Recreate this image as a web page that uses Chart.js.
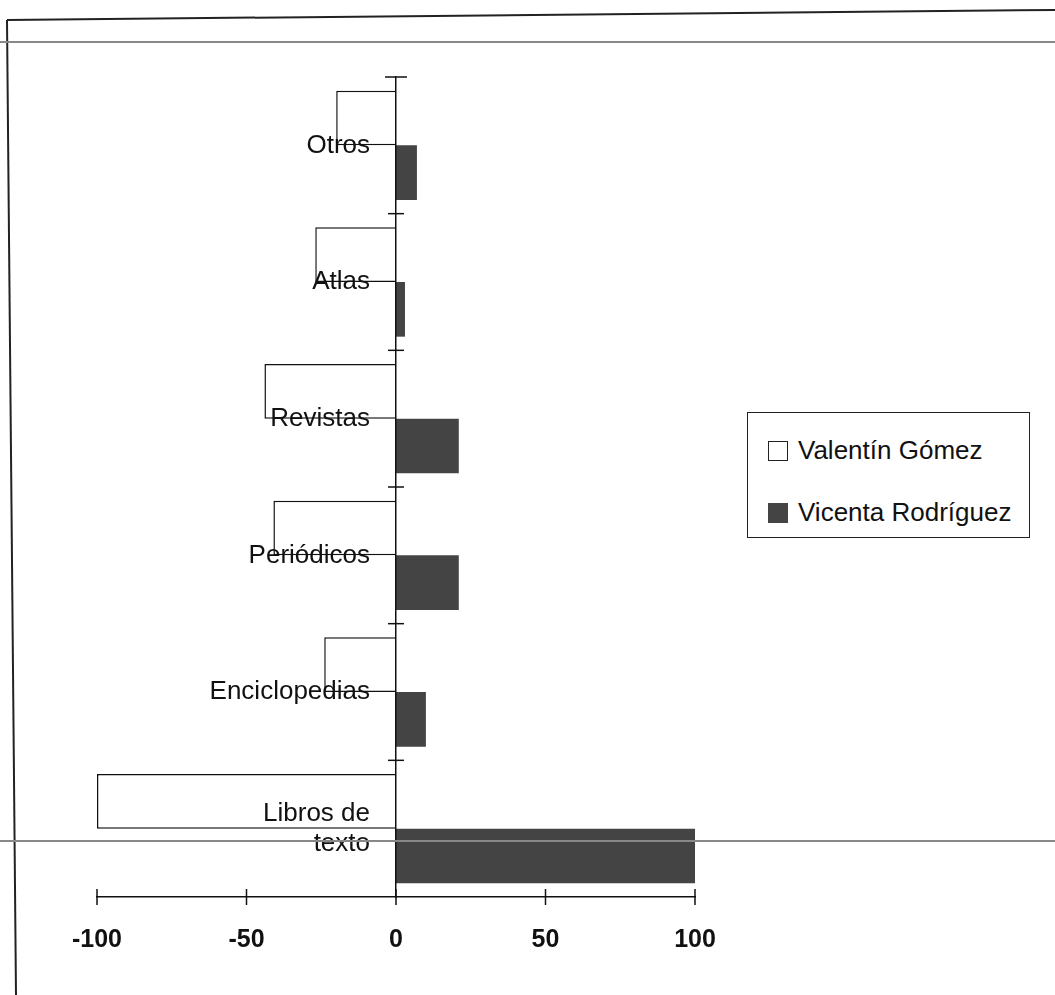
<!DOCTYPE html>
<html lang="es">
<head>
<meta charset="utf-8">
<title>Materiales utilizados</title>
<script src="https://cdn.jsdelivr.net/npm/chart.js@4.4.1/dist/chart.umd.min.js"></script>
<style>
  html, body { margin: 0; padding: 0; background: #fff; }
  #wrap { position: relative; width: 1055px; height: 995px; overflow: hidden; }
  #frame { position: absolute; left: 0; top: 0; pointer-events: none; }
  #legend {
    position: absolute; left: 747px; top: 412px; width: 281px; height: 124px;
    border: 1.5px solid #222; background: #fff;
    font-family: "Liberation Sans", Arial, sans-serif; font-size: 26px; color: #111;
  }
  #legend .item { position: absolute; left: 20px; display: flex; align-items: center; }
  #legend .box { width: 20px; height: 20px; box-sizing: border-box; margin-right: 10px; }
</style>
</head>
<body>
<div id="wrap">
  <canvas id="usoChart"></canvas>
  <svg id="frame" width="1055" height="995">
    <line x1="7" y1="20" x2="1055" y2="10" stroke="#222" stroke-width="2"/>
    <line x1="7" y1="20" x2="16" y2="995" stroke="#222" stroke-width="2"/>
    <line x1="0" y1="42" x2="1055" y2="42" stroke="#888" stroke-width="2"/>
    <line x1="0" y1="841" x2="1055" y2="841" stroke="#888" stroke-width="2"/>
  </svg>
  <div id="legend"></div>
</div>
<script>
// Datos
const categories = ['Otros', 'Atlas', 'Revistas', 'Periódicos', 'Enciclopedias', ['Libros de', 'texto']];
const valentin = [-20, -27, -44, -41, -24, -100];
const vicenta = [7, 3, 21, 21, 10, 100];
const xTicks = [-100, -50, 0, 50, 100];

Chart.defaults.font.family = '"Liberation Sans", Arial, sans-serif';
Chart.defaults.color = '#111';

// tick marks that cross both axes
const crossTicks = {
  id: 'crossTicks',
  afterDraw(chart) {
    const { ctx, scales: { x, y } } = chart;
    const line = (x1, y1, x2, y2) => {
      ctx.beginPath(); ctx.moveTo(x1, y1); ctx.lineTo(x2, y2); ctx.stroke();
    };
    ctx.save();
    ctx.strokeStyle = '#111';
    ctx.lineWidth = 1.5;
    const yBase = y.bottom;
    x.ticks.forEach((t, i) => {
      const px = x.getPixelForTick(i);
      line(px, yBase - 8, px, yBase + 8);
    });
    const x0 = x.getPixelForValue(0);
    for (let i = 0; i < categories.length; i++) {
      const py = y.getPixelForValue(i - 0.5);
      const w = i === 0 ? 11 : 8;
      line(x0 - w, py, x0 + w, py);
    }
    ctx.restore();
  }
};

const ctx = document.getElementById('usoChart').getContext('2d');
const usoChart = new Chart(ctx, {
  type: 'bar',
  data: {
    labels: categories,
    datasets: [{
      label: 'Valentín Gómez',
      data: valentin,
      backgroundColor: '#ffffff',
      borderColor: '#111111',
      borderWidth: 1.5,
      borderSkipped: 'start'
    }, {
      label: 'Vicenta Rodríguez',
      data: vicenta,
      backgroundColor: '#444444',
      borderWidth: 0
    }]
  },
  options: {
    indexAxis: 'y',
    responsive: true,
    maintainAspectRatio: false,
    animation: false,
    layout: { padding: { top: 77, left: 97, right: 360, bottom: 12 } },
    datasets: { bar: { categoryPercentage: 0.8, barPercentage: 1.0 } },
    plugins: {
      legend: { display: false },
      tooltip: { enabled: false }
    },
    scales: {
      x: {
        min: -100,
        max: 100,
        afterBuildTicks: (axis) => { axis.ticks = xTicks.map(v => ({ value: v })); },
        grid: { display: false, drawTicks: false },
        border: { display: true, color: '#111', width: 1.5 },
        ticks: {
          padding: 28,
          font: { size: 25, weight: 'bold' },
          color: '#111'
        }
      },
      y: {
        position: { x: 0 },
        grid: { display: false, drawTicks: false },
        border: { display: true, color: '#111', width: 1.5, z: 1 },
        ticks: {
          z: 1,
          font: { size: 26, lineHeight: 1.15 },
          color: '#111',
          callback: function (value) {
            const lab = this.getLabelForValue(value);
            return Array.isArray(lab) ? lab.map(l => l + '\u2003') : lab + '\u2003';
          }
        }
      }
    }
  },
  plugins: [crossTicks]
});

// Leyenda
const legendEl = document.getElementById('legend');
usoChart.data.datasets.forEach((ds, i) => {
  const item = document.createElement('div');
  item.className = 'item';
  item.style.top = (i === 0 ? 22 : 84) + 'px';
  const box = document.createElement('span');
  box.className = 'box';
  box.style.background = ds.backgroundColor;
  box.style.border = ds.borderWidth ? '1.5px solid #222' : '1px solid ' + ds.backgroundColor;
  const txt = document.createElement('span');
  txt.textContent = ds.label;
  item.appendChild(box);
  item.appendChild(txt);
  legendEl.appendChild(item);
});
</script>
</body>
</html>
